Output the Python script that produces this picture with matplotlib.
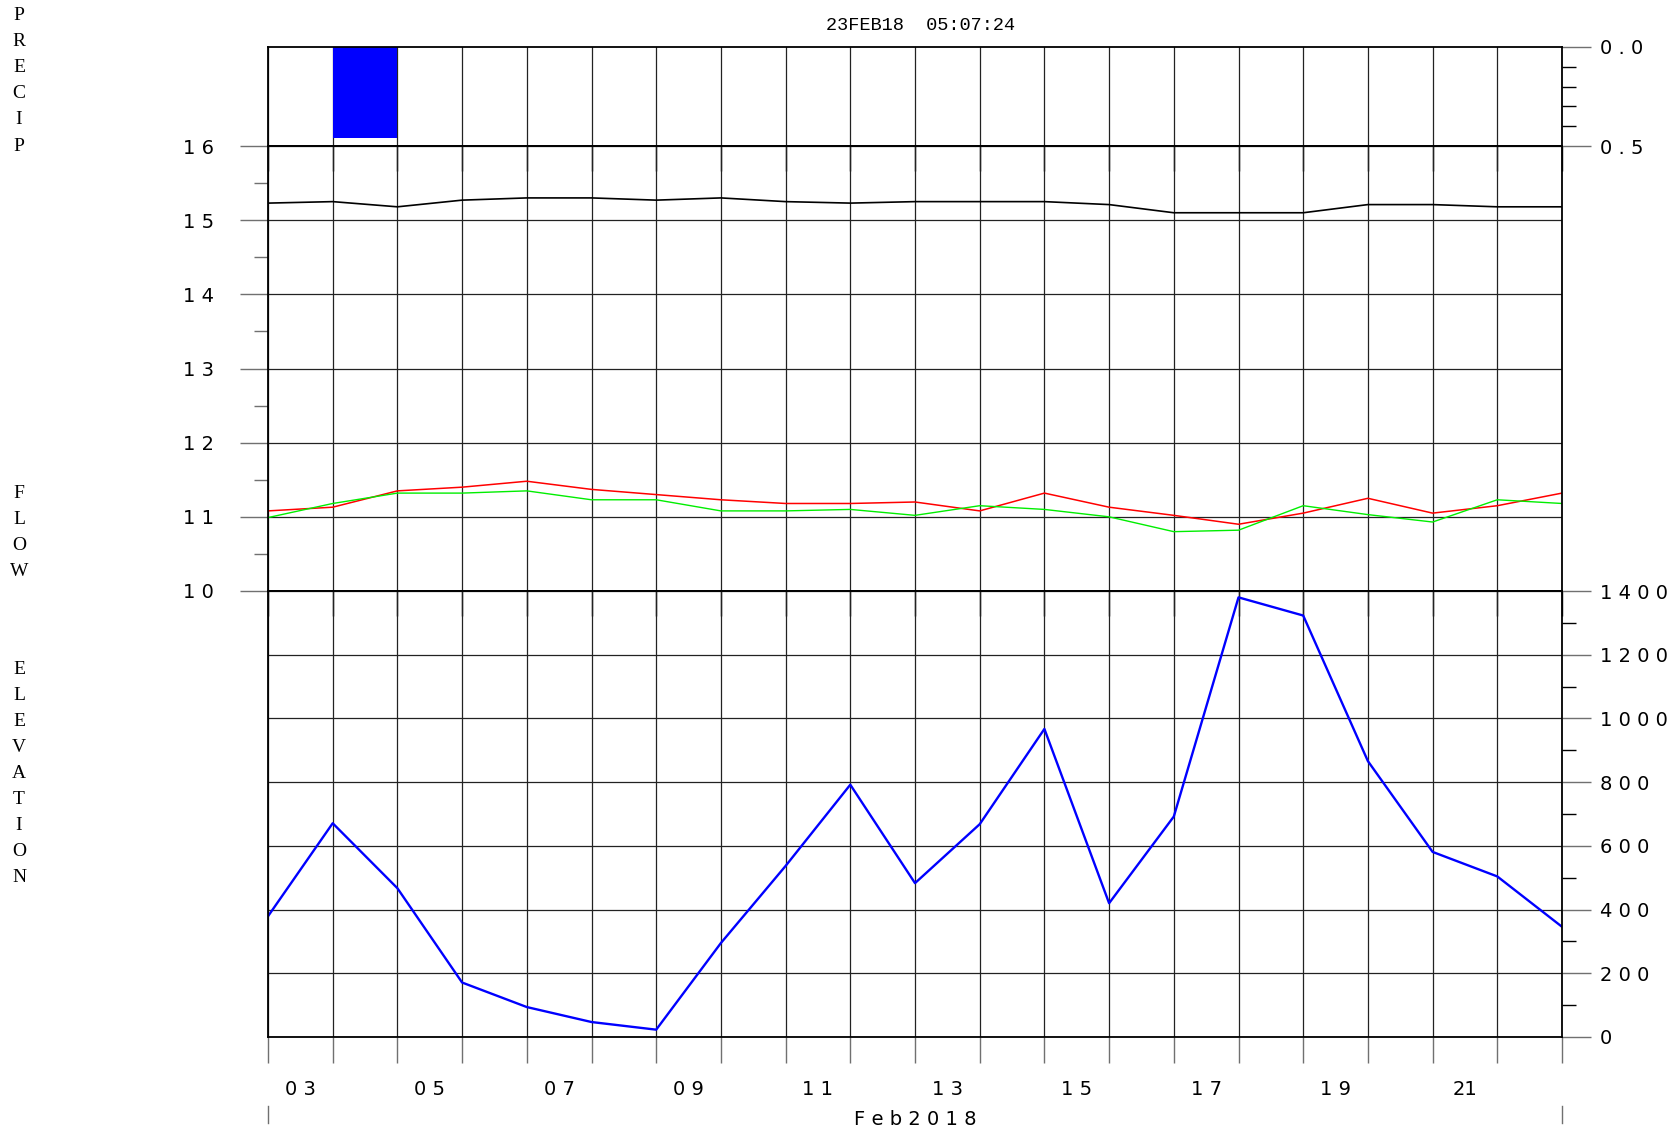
import numpy as np
import pandas as pd
import matplotlib
matplotlib.use("Agg")
import matplotlib.pyplot as plt
import matplotlib.dates as mdates
import matplotlib.transforms as mtransforms
from matplotlib.ticker import (FixedLocator, FixedFormatter, MultipleLocator,
                               FuncFormatter, NullFormatter)

# Data -------------------------------------------------------------------------

dates = pd.date_range("2018-02-03", periods=21, freq="D")

elev_black = [15.23, 15.25, 15.18, 15.27, 15.30, 15.30, 15.27, 15.30, 15.25, 15.23,
              15.25, 15.25, 15.25, 15.21, 15.10, 15.10, 15.10, 15.21, 15.21, 15.18, 15.18]
elev_red = [11.08, 11.13, 11.35, 11.40, 11.48, 11.37, 11.30, 11.23, 11.18, 11.18,
            11.20, 11.08, 11.32, 11.13, 11.02, 10.90, 11.05, 11.25, 11.05, 11.15, 11.32]
elev_green = [10.99, 11.18, 11.32, 11.32, 11.35, 11.23, 11.23, 11.08, 11.08, 11.10,
              11.02, 11.15, 11.10, 11.00, 10.80, 10.82, 11.15, 11.03, 10.93, 11.23, 11.18]
flow = [379, 671, 467, 171, 94, 47, 23, 295, 537, 792,
        483, 668, 967, 420, 692, 1380, 1323, 866, 581, 504, 346]

# daily precip, one value per day interval
precip = [0.0, 0.46, 0.0, 0.0, 0.0, 0.0, 0.0, 0.0, 0.0, 0.0,
          0.0, 0.0, 0.0, 0.0, 0.0, 0.0, 0.0, 0.0, 0.0, 0.0]

label_days = ["2018-02-03", "2018-02-05", "2018-02-07", "2018-02-09", "2018-02-11",
              "2018-02-13", "2018-02-15", "2018-02-17", "2018-02-19", "2018-02-21"]
day_labels = ["0 3", "0 5", "0 7", "0 9", "1 1", "1 3", "1 5", "1 7", "1 9", "21"]

# ------------------------------------------------------------------------------

W, H = 1676, 1130
fig = plt.figure(figsize=(W / 100, H / 100), dpi=100)
fig.patch.set_facecolor("white")

def px_box(left, top, right, bottom):
    return [left / W, 1 - bottom / H, (right - left) / W, (bottom - top) / H]

L, R = 268, 1562
ax_p = fig.add_axes(px_box(L, 47, R, 146))
ax_e = fig.add_axes(px_box(L, 146, R, 591))
ax_f = fig.add_axes(px_box(L, 591, R, 1037))

x = mdates.date2num(dates.to_pydatetime())
serif = "Liberation Serif"
mono = "Liberation Mono"
tick_gray = "#707070"

def spaced(fmt):
    return FuncFormatter(lambda v, p: " ".join(fmt.format(v)))

for ax in (ax_p, ax_e, ax_f):
    ax.set_facecolor("none")
    for s in ax.spines.values():
        s.set_color("black")
        s.set_linewidth(1.3)
    ax.xaxis.set_major_locator(mdates.DayLocator())
    ax.xaxis.set_major_formatter(NullFormatter())
    ax.grid(axis="x", which="major", color="#222222", linewidth=0.9)
    ax.set_axisbelow(True)
    ax.set_xlim(x[0], x[-1])

# precip panel
ax_p.bar(x[:-1], precip, width=1.0, align="edge", color="#0000ff", linewidth=0)
ax_p.set_xlim(x[0], x[-1])
ax_p.set_ylim(0.5, 0.0)
ax_p.yaxis.tick_right()
ax_p.yaxis.set_major_locator(FixedLocator([0.0, 0.5]))
ax_p.yaxis.set_minor_locator(MultipleLocator(0.1))
ax_p.yaxis.set_major_formatter(spaced("{:.1f}"))
ax_p.tick_params(axis="y", which="major", length=21, width=1, color=tick_gray,
                 pad=6, labelsize=14)
ax_p.tick_params(axis="y", which="minor", length=10, width=1, color="black")
ax_p.tick_params(axis="x", which="major", direction="out", length=18, width=1,
                 color="black", labelbottom=False)

# elevation panel
ax_e.plot(x, elev_black, color="black", linewidth=1.2)
ax_e.plot(x, elev_red, color="#ff0000", linewidth=1.1)
ax_e.plot(x, elev_green, color="#00ee00", linewidth=1.0)
ax_e.set_xlim(x[0], x[-1])
ax_e.set_ylim(10, 16)
ax_e.yaxis.set_major_locator(MultipleLocator(1))
ax_e.yaxis.set_minor_locator(MultipleLocator(0.5))
ax_e.yaxis.set_major_formatter(spaced("{:.0f}"))
ax_e.grid(axis="y", which="major", color="#222222", linewidth=0.9)
ax_e.tick_params(axis="y", which="major", length=20, width=1, color=tick_gray,
                 pad=19, labelsize=14)
ax_e.tick_params(axis="y", which="minor", length=10, width=1, color=tick_gray)
ax_e.tick_params(axis="x", which="major", direction="out", length=18, width=1,
                 color="black", labelbottom=False)

# flow panel
ax_f.plot(x, flow, color="#0000ff", linewidth=1.7)
ax_f.set_xlim(x[0], x[-1])
ax_f.set_ylim(0, 1400)
ax_f.yaxis.tick_right()
ax_f.yaxis.set_major_locator(MultipleLocator(200))
ax_f.yaxis.set_minor_locator(MultipleLocator(100))
ax_f.yaxis.set_major_formatter(spaced("{:.0f}"))
ax_f.grid(axis="y", which="major", color="#222222", linewidth=0.9)
ax_f.tick_params(axis="y", which="major", length=21, width=1, color=tick_gray,
                 pad=6, labelsize=14)
ax_f.tick_params(axis="y", which="minor", length=10, width=1, color="black")

label_x = mdates.date2num(pd.to_datetime(label_days).to_pydatetime()) + 0.5
ax_f.xaxis.set_minor_locator(FixedLocator(label_x))
ax_f.xaxis.set_minor_formatter(FixedFormatter(day_labels))
ax_f.tick_params(axis="x", which="major", direction="out", length=19, width=1,
                 color=tick_gray)
ax_f.tick_params(axis="x", which="minor", length=0, pad=31, labelsize=14)

# month label and end markers
ax_f.text(0.5, -0.185, "F e b 2 0 1 8", transform=ax_f.transAxes,
          ha="center", va="center", fontsize=14)
trans = mtransforms.blended_transform_factory(ax_f.transData, fig.transFigure)
for xv in (x[0], x[-1]):
    ax_f.plot([xv, xv], [1 - 1106 / H, 1 - 1123 / H], color=tick_gray,
              linewidth=1, transform=trans, clip_on=False)

# title and side labels
fig.text(921 / W, 1 - 26 / H, "23FEB18  05:07:24", family=mono, fontsize=13.4,
         ha="center", va="center")

def side_label(word, top_px, step=26):
    for i, ch in enumerate(word):
        fig.text(19 / W, 1 - (top_px + i * step) / H, ch, family=serif,
                 fontsize=14, ha="center", va="center")

side_label("PRECIP", 16)
side_label("FLOW", 494)
side_label("ELEVATION", 669)

fig.savefig("out.png", dpi=100)
